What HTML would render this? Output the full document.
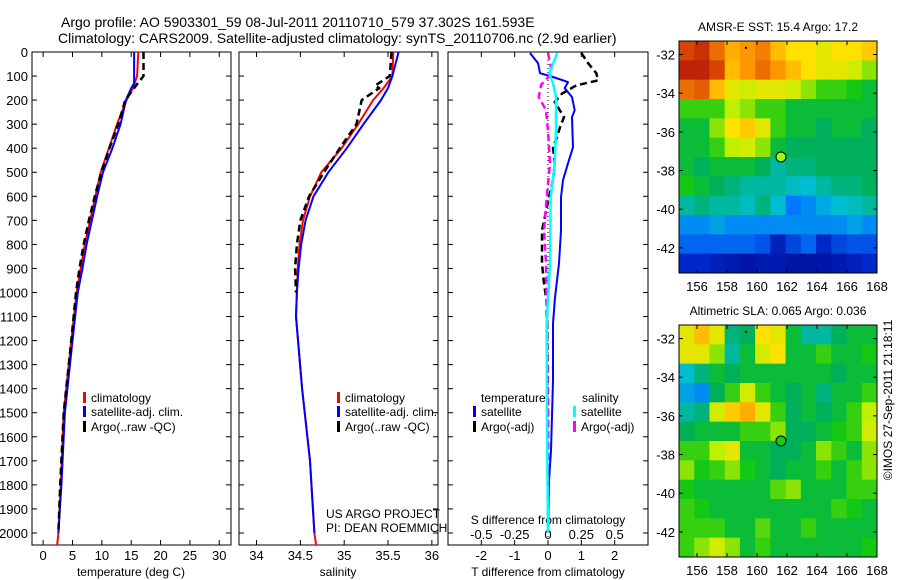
<!DOCTYPE html>
<html><head><meta charset="utf-8">
<style>
html,body{margin:0;padding:0;background:#fff;}
svg{display:block;font-family:"Liberation Sans",sans-serif;}
text{fill:#000;}
</style></head>
<body>
<svg id="fig" width="900" height="580" viewBox="0 0 900 580" xmlns="http://www.w3.org/2000/svg">
<text x="61" y="27" font-size="14">Argo profile: AO 5903301_59 08-Jul-2011 20110710_579 37.302S 161.593E</text>
<text x="58" y="43" font-size="14">Climatology: CARS2009. Satellite-adjusted climatology: synTS_20110706.nc (2.9d earlier)</text>
<g id="g"></g>
</svg>
<script>
// ---------- data ----------
const depthTicks=[0,100,200,300,400,500,600,700,800,900,1000,1100,1200,1300,1400,1500,1600,1700,1800,1900,2000];
const tempTicks=[0,5,10,15,20,25,30];
const salTicks=[34,34.5,35,35.5,36];
const tdiffTicks=[-2,-1,0,1,2];
const sdiffTicks=[-0.5,-0.25,0,0.25,0.5];
const sdiffTickLabels=["-0.5","-0.25","0","0.25","0.5"];

const tClimDepth=[0,100,150,200,300,400,500,600,700,800,900,1000,1200,1500,1800,2000,2050];
const tClim=[16.2,16.0,15.3,14.2,12.6,11.2,9.8,8.9,8.0,7.1,6.4,5.7,4.8,3.5,3.0,2.6,2.4];
const tSatDepth=[0,130,150,200,300,400,500,600,700,800,900,1000,1200,1500,1800,2000];
const tSat=[15.5,15.5,15.0,14.1,13.2,11.8,10.2,9.2,8.3,7.4,6.7,5.9,5.0,3.7,3.1,2.6];
const tArgoDepth=[0,100,140,200,300,400,500,600,700,800,900,1000,1200,1500,1800,2000];
const tArgo=[17.1,17.1,15.8,14.0,12.8,11.3,9.9,8.8,7.8,6.9,6.2,5.6,4.8,3.5,2.9,2.6];

const sClimDepth=[0,100,150,200,300,400,500,600,700,800,900,1000,1100,1400,1700,2000,2050];
const sClim=[35.56,35.55,35.45,35.33,35.16,34.97,34.74,34.61,34.53,34.49,34.47,34.46,34.45,34.52,34.61,34.66,34.68];
const sSatDepth=[0,100,150,200,300,400,500,600,700,800,900,1000,1100,1400,1700,2000];
const sSat=[35.62,35.55,35.5,35.42,35.22,35.03,34.82,34.65,34.56,34.51,34.48,34.46,34.45,34.52,34.61,34.66];
const sArgoDepth=[0,100,140,150,200,300,400,500,600,700,800,900,1000];
const sArgo=[35.54,35.52,35.35,35.4,35.2,35.14,34.95,34.77,34.6,34.5,34.46,34.44,34.45];

const dTSatDepth=[4,46,88,104,125,150,187,242,271,396,463,533,604,742,879,1021,1129,1367,1658,1783,2000];
const dTSat=[-0.54,-0.3,-0.24,0.15,0.6,0.5,0.72,0.8,0.72,0.75,0.6,0.45,0.39,0.39,0.33,0.21,0.15,0.15,0.09,0.03,0.0];
const dTArgoDepth=[4,46,88,118,139,173,208,271,313,354,396,463,533,604,742,879,963,1046,1500,2000];
const dTArgo=[1.0,1.2,1.45,1.5,0.85,0.42,0.2,0.48,0.36,0.27,0.15,0.2,0.15,0.03,-0.18,-0.18,-0.12,-0.03,0.0,0.0];
const dSSatDepth=[4,46,88,135,187,327,463,604,879,1129,1500,2000];
const dSSat=[0.07,0.04,0.01,0.04,0.06,0.06,0.05,0.02,0.015,-0.01,-0.008,0.0];
const dSArgoDepth=[4,88,135,187,242,327,463,604,742,879,1129,1500,2000];
const dSArgo=[0,0.03,-0.05,-0.07,-0.015,0,0.015,-0.01,-0.03,-0.015,-0.01,0,0];

const lonTicks=[156,158,160,162,164,166,168];
const latTicks=[-32,-34,-36,-38,-40,-42];
const argoLon=161.6, argoLat=-37.3;
const sstGrid=[
[0.85,0.88,0.8,0.72,0.75,0.78,0.7,0.65,0.65,0.62,0.65,0.65,0.68],
[0.9,0.9,0.85,0.7,0.75,0.8,0.75,0.7,0.65,0.62,0.62,0.6,0.55],
[0.8,0.82,0.7,0.62,0.6,0.62,0.62,0.6,0.55,0.5,0.5,0.48,0.45],
[0.5,0.5,0.5,0.58,0.55,0.5,0.5,0.45,0.45,0.45,0.45,0.45,0.45],
[0.45,0.45,0.55,0.65,0.68,0.62,0.5,0.45,0.45,0.42,0.45,0.45,0.42],
[0.45,0.45,0.5,0.58,0.6,0.55,0.45,0.42,0.42,0.42,0.42,0.42,0.42],
[0.45,0.42,0.45,0.45,0.45,0.42,0.38,0.4,0.4,0.42,0.42,0.42,0.42],
[0.48,0.45,0.42,0.4,0.38,0.38,0.38,0.36,0.35,0.38,0.4,0.4,0.42],
[0.38,0.4,0.38,0.38,0.36,0.4,0.35,0.28,0.3,0.33,0.35,0.36,0.38],
[0.3,0.3,0.32,0.3,0.3,0.3,0.3,0.3,0.3,0.3,0.3,0.32,0.3],
[0.25,0.25,0.25,0.25,0.25,0.22,0.12,0.2,0.25,0.15,0.2,0.22,0.22],
[0.15,0.15,0.12,0.1,0.08,0.1,0.1,0.08,0.08,0.08,0.1,0.12,0.15]];
const slaGrid=[
[0.62,0.7,0.62,0.4,0.42,0.65,0.62,0.45,0.38,0.38,0.42,0.45,0.45],
[0.62,0.62,0.55,0.38,0.45,0.6,0.65,0.45,0.45,0.5,0.45,0.45,0.48],
[0.35,0.4,0.45,0.42,0.45,0.45,0.45,0.45,0.45,0.45,0.42,0.45,0.45],
[0.32,0.3,0.42,0.5,0.6,0.5,0.45,0.42,0.45,0.4,0.45,0.45,0.5],
[0.38,0.4,0.6,0.68,0.72,0.62,0.5,0.42,0.45,0.42,0.45,0.5,0.58],
[0.42,0.45,0.45,0.45,0.5,0.5,0.55,0.42,0.42,0.45,0.48,0.5,0.6],
[0.5,0.5,0.58,0.62,0.45,0.45,0.42,0.42,0.45,0.55,0.5,0.45,0.55],
[0.55,0.48,0.5,0.55,0.48,0.45,0.42,0.45,0.45,0.5,0.45,0.5,0.55],
[0.48,0.45,0.45,0.45,0.45,0.45,0.52,0.55,0.45,0.45,0.45,0.5,0.5],
[0.5,0.48,0.45,0.45,0.45,0.45,0.45,0.45,0.45,0.45,0.5,0.48,0.45],
[0.5,0.5,0.5,0.45,0.45,0.52,0.45,0.45,0.5,0.45,0.45,0.45,0.45],
[0.5,0.55,0.6,0.55,0.45,0.5,0.45,0.45,0.45,0.45,0.45,0.45,0.48]];

// ---------- helpers ----------
const NS="http://www.w3.org/2000/svg";
const G=document.getElementById('g');
function mk(tag,attrs,parent){const e=document.createElementNS(NS,tag);for(const k in attrs)e.setAttribute(k,attrs[k]);(parent||G).appendChild(e);return e;}
function txt(x,y,s,size,anchor,parent){const e=mk('text',{x:x,y:y,'font-size':size,'text-anchor':anchor||'start'},parent);e.textContent=s;return e;}

const TOP=52,BOT=545,DMAX=2050;
const yD=d=>TOP+d*(BOT-TOP)/DMAX;
const P1={l:32,r:231},P2={l:239,r:438},P3={l:448,r:648};
const xT=v=>P1.l+(v+1.9)*(P1.r-P1.l)/33.9;
const xS=v=>P2.l+(v-33.8)*(P2.r-P2.l)/2.27;
const xTd=v=>P3.l+(v+3)*(P3.r-P3.l)/6;
const xSd=v=>P3.l+(v+0.75)*(P3.r-P3.l)/1.5;

function frame(P,name){
  const r=mk('rect',{x:P.l,y:TOP,width:P.r-P.l,height:BOT-TOP,fill:'none',stroke:'#000','stroke-width':1});
  
  
  depthTicks.forEach(d=>{
    mk('line',{x1:P.l,x2:P.l+5,y1:yD(d),y2:yD(d),stroke:'#000'});
    mk('line',{x1:P.r-5,x2:P.r,y1:yD(d),y2:yD(d),stroke:'#000'});
  });
}
function xticks(vals,fx,labels,ly,name){
  vals.forEach((v,i)=>{
    const x=fx(v);
    mk('line',{x1:x,x2:x,y1:BOT,y2:BOT-5,stroke:'#000'});
    mk('line',{x1:x,x2:x,y1:TOP,y2:TOP+5,stroke:'#000'});
    if(ly){const t=txt(x,ly,labels?labels[i]:String(v),13,'middle');
      
      }
  });
}
function line(ds,vs,fx,color,dash,name,w){
  const pts=ds.map((d,i)=>fx(vs[i]).toFixed(1)+','+yD(d).toFixed(1)).join(' ');
  const p=mk('polyline',{points:pts,fill:'none',stroke:color,'stroke-width':w||2,'stroke-dasharray':dash||'none','stroke-linejoin':'round'});
  
  
}
function legendEntry(x,y,color,label){
  const g=mk('g',{});
  
  
  mk('rect',{x:x,y:y-10,width:3,height:11,fill:color},g);
  txt(x+8,y,label,12,'start',g);
}

// ---------- panel 1: temperature ----------
frame(P1,'temperature-panel');
depthTicks.forEach(d=>{const t=txt(28,yD(d)+5,String(d),13,'end');
  
  });
xticks(tempTicks,xT,null,560,'temperature-tick-label');
txt(131,576,'temperature (deg C)',12,'middle');
line(tClimDepth,tClim,xT,'#f00',null,'temp-climatology-line');
line(tSatDepth,tSat,xT,'#00f',null,'temp-satellite-line');
line(tArgoDepth,tArgo,xT,'#000','7,4','temp-argo-line',2.5);
legendEntry(83,402,'#f00','climatology');
legendEntry(83,416,'#00f','satellite-adj. clim.');
legendEntry(83,431,'#000','Argo(..raw -QC)');

// ---------- panel 2: salinity ----------
frame(P2,'salinity-panel');
xticks(salTicks,xS,null,560,'salinity-tick-label');
txt(338,576,'salinity',12,'middle');
line(sClimDepth,sClim,xS,'#f00',null,'sal-climatology-line');
line(sSatDepth,sSat,xS,'#00f',null,'sal-satellite-line');
line(sArgoDepth,sArgo,xS,'#000','7,4','sal-argo-line',2.5);
legendEntry(337,402,'#f00','climatology');
legendEntry(337,416,'#00f','satellite-adj. clim.');
legendEntry(337,431,'#000','Argo(..raw -QC)');
txt(326,518,'US ARGO PROJECT',12);
txt(326,532,'PI: DEAN ROEMMICH',12);

// ---------- panel 3: differences ----------
frame(P3,'difference-panel');
xticks(tdiffTicks,xTd,null,560,'tdiff-tick-label');
sdiffTicks.forEach((v,i)=>{const t=txt(xSd(v),539,sdiffTickLabels[i],13,'middle');
  
  });
txt(548,524,'S difference from climatology',12,'middle');
txt(548,576,'T difference from climatology',12,'middle');
mk('line',{x1:xTd(0),x2:xTd(0),y1:TOP,y2:BOT,stroke:'#000','stroke-dasharray':'1,3'});
line(dTSatDepth,dTSat,xTd,'#00f',null,'tdiff-satellite-line');
line(dTArgoDepth,dTArgo,xTd,'#000','7,4','tdiff-argo-line',2.5);
line(dSArgoDepth,dSArgo,xSd,'#f0f','7,4','sdiff-argo-line',2.5);
line(dSSatDepth,dSSat,xSd,'#0ff',null,'sdiff-satellite-line',2.5);
txt(481,402,'temperature',12);
txt(582,402,'salinity',12);
legendEntry(473,416,'#00f','satellite');
legendEntry(473,431,'#000','Argo(-adj)');
legendEntry(573,416,'#0ff','satellite');
legendEntry(573,431,'#f0f','Argo(-adj)');

// ---------- maps ----------
const cmapStops=[[0,[0,0,128]],[0.15,[0,40,200]],[0.28,[0,120,255]],[0.35,[0,190,210]],[0.42,[0,175,90]],[0.48,[20,200,20]],[0.58,[190,240,0]],[0.65,[255,225,0]],[0.75,[255,150,0]],[0.85,[215,70,0]],[0.93,[175,15,15]],[1,[130,0,0]]];
function cmap(v){
  v=Math.max(0,Math.min(1,v));
  for(let i=1;i<cmapStops.length;i++){
    if(v<=cmapStops[i][0]){
      const a=cmapStops[i-1],b=cmapStops[i],f=(v-a[0])/(b[0]-a[0]);
      const c=a[1].map((x,k)=>Math.round(x+(b[1][k]-x)*f));
      return `rgb(${c[0]},${c[1]},${c[2]})`;
    }
  }
  return 'rgb(130,0,0)';
}
function map(M,grid,title,name,dotFill){
  const LON0=154.8,LON1=168,LAT0=-31.3,LAT1=-43.3;
  const xL=v=>M.l+(v-LON0)*(M.r-M.l)/(LON1-LON0);
  const yL=v=>M.t+(LAT0-v)*(M.b-M.t)/(LAT0-LAT1);
  const grp=mk('g',{});
  
  
  const rows=grid.length,cols=grid[0].length;
  const cw=(LON1-LON0)/cols,ch=(LAT0-LAT1)/rows;
  grid.forEach((row,i)=>row.forEach((v,j)=>{
    const x0=xL(LON0+j*cw),x1=xL(LON0+(j+1)*cw),y0=yL(LAT0-i*ch),y1=yL(LAT0-(i+1)*ch);
    const w=Math.min(x1-x0+0.5,M.r-x0),h=Math.min(y1-y0+0.5,M.b-y0);
    const c=mk('rect',{x:x0,y:y0,width:w,height:h,fill:cmap(v)},grp);
    
    
  }));
  mk('rect',{x:M.l,y:M.t,width:M.r-M.l,height:M.b-M.t,fill:'none',stroke:'#000'},grp);
  lonTicks.forEach(v=>{const x=xL(v);
    mk('line',{x1:x,x2:x,y1:M.b,y2:M.b-4,stroke:'#000'},grp);
    mk('line',{x1:x,x2:x,y1:M.t,y2:M.t+4,stroke:'#000'},grp);
    const t=txt(x,M.b+18,String(v),13,'middle',grp);
    
    });
  latTicks.forEach(v=>{const y=yL(v);
    mk('line',{x1:M.l,x2:M.l+4,y1:y,y2:y,stroke:'#000'},grp);
    mk('line',{x1:M.r-4,x2:M.r,y1:y,y2:y,stroke:'#000'},grp);
    const t=txt(M.l-4,y+5,String(v),13,'end',grp);
    
    });
  const c=mk('circle',{cx:xL(argoLon),cy:yL(argoLat),r:5,fill:dotFill,stroke:'#000','stroke-width':1},grp);
  
  
  mk('rect',{x:xL(159.2),y:yL(-31.6),width:2,height:2,fill:'#000'},grp);
  const tt=txt((M.l+M.r)/2,M.t-10,title,12,'middle',grp);
  
  
}
map({l:679,r:877,t:41,b:273},sstGrid,'AMSR-E SST: 15.4 Argo: 17.2','sst-map','#9f1');
map({l:679,r:877,t:325,b:557},slaGrid,'Altimetric SLA: 0.065 Argo: 0.036','sla-map','#1c1');
const im=txt(0,0,'©IMOS 27-Sep-2011 21:18:11',12,'middle');
im.setAttribute('transform','translate(892,400) rotate(-90)');


</script>
</body></html>
